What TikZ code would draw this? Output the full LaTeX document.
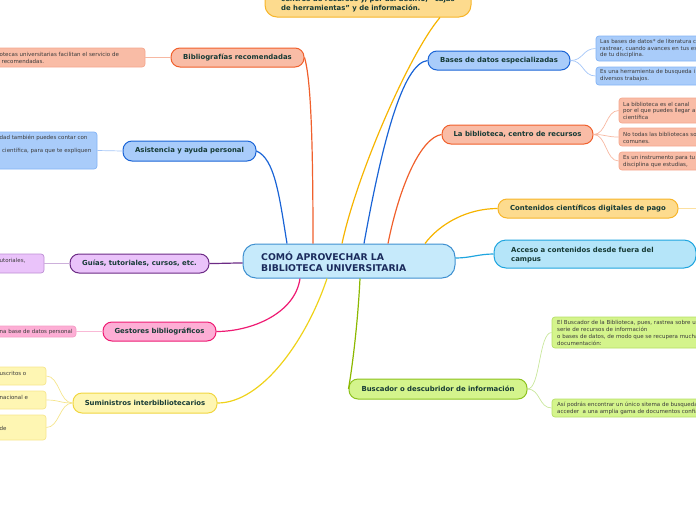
\documentclass[tikz,border=0pt]{standalone}
\usepackage{fontspec}
\setmainfont{DejaVu Sans}
\usetikzlibrary{calc}
\definecolor{orgF}{HTML}{FDDB8E}\definecolor{orgD}{HTML}{F7B52A}\definecolor{orgL}{HTML}{F6B400}\definecolor{orgT}{HTML}{FCE0A0}
\definecolor{redF}{HTML}{F9BCA6}\definecolor{redD}{HTML}{F0602C}\definecolor{redC}{HTML}{F5A78E}\definecolor{redT}{HTML}{F7B8A2}
\definecolor{bluF}{HTML}{A9CCFA}\definecolor{bluD}{HTML}{1A64D6}\definecolor{bluC}{HTML}{82B3F5}\definecolor{bluT}{HTML}{A4C6F8}
\definecolor{purF}{HTML}{EAC3FA}\definecolor{purD}{HTML}{6C2B85}\definecolor{purC}{HTML}{BD8FD4}\definecolor{purT}{HTML}{CDB0DB}
\definecolor{pnkF}{HTML}{FDAED5}\definecolor{pnkD}{HTML}{EE1B73}\definecolor{pnkC}{HTML}{F59DC6}\definecolor{pnkT}{HTML}{F9B9D6}
\definecolor{yelF}{HTML}{FEF6B3}\definecolor{yelD}{HTML}{F1D640}\definecolor{yelL}{HTML}{EFD21A}\definecolor{yelC}{HTML}{F6E68E}\definecolor{yelT}{HTML}{F5E58C}
\definecolor{grnF}{HTML}{D4F48C}\definecolor{grnD}{HTML}{8DC21E}\definecolor{grnL}{HTML}{8CB800}\definecolor{grnC}{HTML}{B5DF66}\definecolor{grnT}{HTML}{C9E79C}
\definecolor{cyaF}{HTML}{B5E5F9}\definecolor{cyaD}{HTML}{1FA5DF}
\definecolor{rootF}{HTML}{C6EAFB}\definecolor{rootD}{HTML}{3F90D0}\definecolor{rootT}{HTML}{1B2B5C}
\definecolor{nodetxt}{HTML}{163A35}\definecolor{subtxt}{HTML}{3B3B3B}
\begin{document}
\begin{tikzpicture}[x=1pt,y=-1pt,
  main/.style={rounded corners=9pt, line width=1pt, minimum height=19pt, inner sep=0pt,
    font=\fontsize{6.9}{8.5}\selectfont\bfseries, text=nodetxt},
  mtxt/.style={anchor=west, inner sep=0pt, align=left, font=\fontsize{6.9}{8.8}\selectfont\bfseries, text=nodetxt},
  sub/.style={rounded corners=3pt, line width=0.7pt, inner sep=0pt},
  stxt/.style={anchor=west, inner sep=0pt, align=left, font=\fontsize{5.5}{6.7}\selectfont, text=subtxt},
  branch/.style={line width=1.2pt},
  twig/.style={line width=0.7pt}]
\useasboundingbox (0,0) rectangle (696,520);
\clip (0,0) rectangle (696,520);

% ---------- root ----------
\node[rounded corners=13pt, line width=1pt, fill=rootF, draw=rootD, minimum width=212pt, minimum height=34pt, inner sep=0pt] (root) at (349,261) {};
\node[anchor=west, inner sep=0pt, align=left, font=\fontsize{9.3}{11}\selectfont\bfseries, text=rootT] (root-t) at (261,261.5) {COMÓ APROVECHAR LA\\BIBLIOTECA UNIVERSITARIA};

% ---------- main nodes ----------
\node[rounded corners=12pt, line width=1pt, fill=orgF, draw=orgD, minimum width=206pt, minimum height=47pt, inner sep=0pt] (top) at (368,-6.5) {};
\node[mtxt] (top-t) at (281,3.9) {centros de recursos y, por así decirlo, "cajas\\de herramientas" y de información.};

\node[main, fill=redF, draw=redD, minimum width=133pt] (bib) at (237.5,57.5) {Bibliografías recomendadas};
\node[main, fill=bluF, draw=bluD, minimum width=133pt, minimum height=20pt] (asis) at (189.5,151) {Asistencia y ayuda personal};
\node[main, fill=purF, draw=purD, minimum width=139pt] (gui) at (139.5,263.5) {Guías, tutoriales, cursos, etc.};
\node[main, fill=pnkF, draw=pnkD, minimum width=113pt] (ges) at (159.5,331.5) {Gestores bibliográficos};
\node[main, fill=yelF, draw=yelD, minimum width=144pt, minimum height=20pt] (sum) at (145,403) {Suministros interbibliotecarios};
\node[main, fill=grnF, draw=grnD, minimum width=178pt, minimum height=20pt] (bus) at (438,389) {Buscador o descubridor de información};
\node[main, fill=orgF, draw=orgD, minimum width=180pt] (cont) at (588,208.5) {Contenidos científicos digitales de pago};
\node[main, fill=redF, draw=redD, minimum width=151pt] (bibl) at (517.5,134.5) {La biblioteca, centro de recursos};
\node[main, fill=bluF, draw=bluD, minimum width=142pt] (bases) at (499,60.5) {Bases de datos especializadas};
\node[main, rounded corners=12pt, fill=cyaF, draw=cyaD, minimum width=202pt, minimum height=28pt] (acc) at (595,254) {};
\node[mtxt] (acc-t) at (511,254.8) {Acceso a contenidos desde fuera del\\campus};

% ---------- child boxes (left) ----------
\node[sub, fill=redF, draw=redC, minimum width=205pt, minimum height=19pt] (bibc) at (42.5,57.5) {};
\node[stxt] (bibc-t) at (-0.5,57.8) {otecas universitarias facilitan el servicio de\\\hspace*{2pt}recomendadas.};
\node[sub, fill=bluF, draw=bluC, minimum width=157pt, minimum height=37pt] (asisc) at (18.5,150.5) {};
\node[stxt] (asisc-t) at (-0.5,144.5) {dad también puedes contar con\\\mbox{}\\\hspace*{2.5pt}científica, para que te expliquen};
\node[sub, fill=purF, draw=purC, minimum width=104pt, minimum height=19pt] (guic) at (-8,263.5) {};
\node[stxt] (guic-t) at (-0.5,261) {utoriales,};
\node[sub, fill=pnkF, draw=pnkC, minimum width=136pt, minimum height=11pt] (gesc) at (8,331.5) {};
\node[stxt] (gesc-t) at (-0.5,332) {na base de datos personal};
\node[sub, fill=yelF, draw=yelC, minimum width=106pt, minimum height=18pt] (sumc1) at (-7,376) {};
\node[stxt] (sumc1-t) at (-0.5,373) {uscritos o};
\node[sub, fill=yelF, draw=yelC, minimum width=106pt, minimum height=18pt] (sumc2) at (-7,400) {};
\node[stxt] (sumc2-t) at (-0.5,397) {nacional e};
\node[sub, fill=yelF, draw=yelC, minimum width=106pt, minimum height=25pt] (sumc3) at (-7,427.5) {};
\node[stxt] (sumc3-t) at (-0.5,428) {de};

% ---------- child boxes (right) ----------
\node[sub, fill=bluF, draw=bluC, minimum width=204pt, minimum height=25pt] (basesc1) at (698,48.5) {};
\node[stxt] (basesc1-t) at (600,48.7) {Las bases de datos* de literatura c\\rastrear, cuando avances en tus es\\de tu disciplina.};
\node[sub, fill=bluF, draw=bluC, minimum width=204pt, minimum height=18pt] (basesc2) at (698,76) {};
\node[stxt] (basesc2-t) at (600,75.6) {Es una herramienta de busqueda i\\diversos trabajos.};
\node[sub, fill=redF, draw=redC, minimum width=181pt, minimum height=25pt] (biblc1) at (709.5,110.5) {};
\node[stxt] (biblc1-t) at (623,110.7) {La biblioteca es el canal\\por el que puedes llegar a\\científica};
\node[sub, fill=redF, draw=redC, minimum width=181pt, minimum height=18pt] (biblc2) at (709.5,137) {};
\node[stxt] (biblc2-t) at (623,137.8) {No todas las bibliotecas so\\comunes.};
\node[sub, fill=redF, draw=redC, minimum width=181pt, minimum height=18pt] (biblc3) at (709.5,161) {};
\node[stxt] (biblc3-t) at (623,161.5) {Es un instrumento para tu\\disciplina que estudias,};
\node[sub, fill=grnF, draw=grnC, minimum width=248pt, minimum height=31pt] (busc1) at (676,332.5) {};
\node[stxt] (busc1-t) at (557,332.9) {El Buscador de la Biblioteca, pues, rastrea sobre u\\serie de recursos de información\\o bases de datos, de modo que se recupera mucha\\documentación:};
\node[sub, fill=grnF, draw=grnC, minimum width=248pt, minimum height=18pt] (busc2) at (676,408) {};
\node[stxt] (busc2-t) at (557,408.5) {Así podrás encontrar un único sitema de busqueda\\acceder\ \ a una amplia gama de documentos confia};
\coordinate (contc) at (720,208.5);

% ---------- branches ----------
\draw[branch, draw=orgL] ([xshift=-7pt]root.north) .. controls +(15,-70) and +(-30,35) .. ([xshift=72pt]top.south);
\draw[branch, draw=redD] ([xshift=-36pt]root.north) .. controls +(0,-110) and +(6,20) .. (bib.east);
\draw[branch, draw=bluD] ([xshift=-62pt]root.north) .. controls +(-8,-50) and +(18,8) .. (asis.east);
\draw[branch, draw=bluD] ([xshift=15pt]root.north) .. controls +(18,-100) and +(-25,3) .. (bases.west);
\draw[branch, draw=redD] ([xshift=39pt]root.north) .. controls +(12,-60) and +(-20,3) .. (bibl.west);
\draw[branch, draw=orgL] ([xshift=76pt]root.north) .. controls +(15,-20) and +(-30,0) .. (cont.west);
\draw[branch, draw=cyaD] ([yshift=3pt]root.east) .. controls +(15,0) and +(-15,0) .. (acc.west);
\draw[branch, draw=purD] ([yshift=-2pt]root.west) .. controls +(-12,0) and +(12,0) .. (gui.east);
\draw[branch, draw=pnkD] ([xshift=-49pt]root.south) .. controls +(-5,35) and +(35,0) .. (ges.east);
\draw[branch, draw=yelL] ([xshift=-22pt]root.south) .. controls +(-20,60) and +(45,0) .. (sum.east);
\draw[branch, draw=grnL] ([xshift=11pt]root.south) .. controls +(-2,40) and +(5,-30) .. (bus.west);

% ---------- twigs ----------
\draw[twig, draw=redT] (bib.west) -- (bibc.east);
\draw[twig, draw=bluT] (asis.west) -- (asisc.east);
\draw[twig, draw=purT] (gui.west) -- (guic.east);
\draw[twig, draw=pnkT] (ges.west) -- (gesc.east);
\foreach \c in {sumc1,sumc2,sumc3}
  \draw[twig, draw=yelT] (sum.west) .. controls +(-13,0) and +(13,0) .. (\c.east);
\foreach \c in {basesc1,basesc2}
  \draw[twig, draw=bluT] (bases.east) .. controls +(13,0) and +(-13,0) .. (\c.west);
\foreach \c in {biblc1,biblc2,biblc3}
  \draw[twig, draw=redT] (bibl.east) .. controls +(13,0) and +(-13,0) .. (\c.west);
\foreach \c in {busc1,busc2}
  \draw[twig, draw=grnT] (bus.east) .. controls +(13,0) and +(-13,0) .. (\c.west);
\draw[twig, draw=orgT] (cont.east) -- (contc);
\end{tikzpicture}
\end{document}
